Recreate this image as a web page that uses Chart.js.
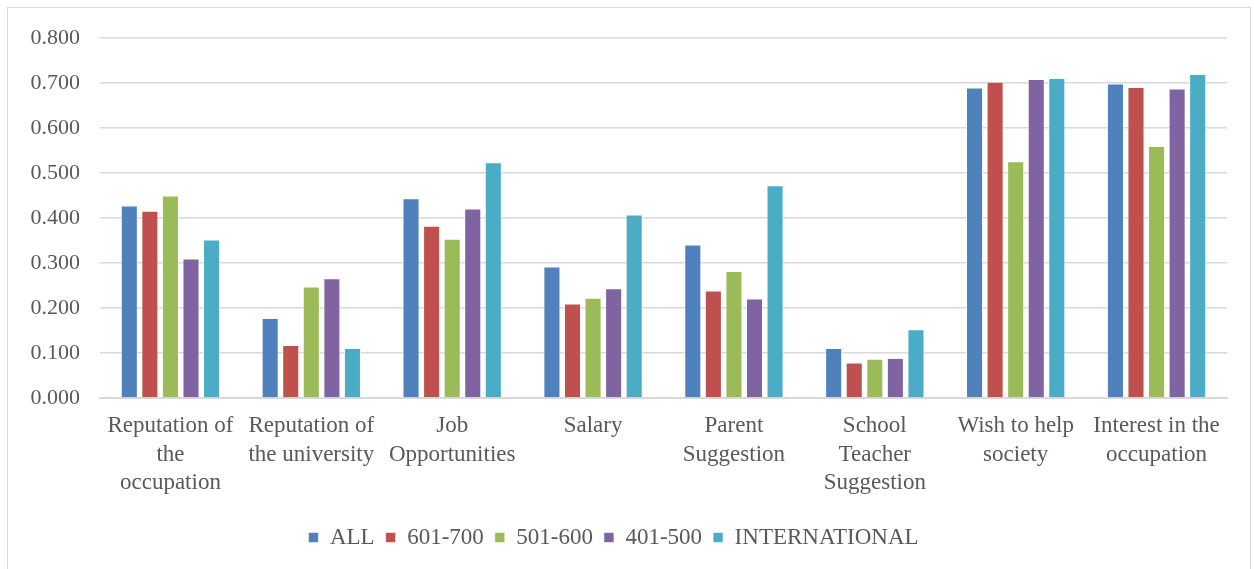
<!DOCTYPE html>
<html>
<head>
<meta charset="utf-8">
<script src="https://cdn.jsdelivr.net/npm/chart.js@4"></script>
<style>
  body { margin: 0; background: #fff; }
  #wrap { position: relative; width: 1254px; height: 569px; }
  #frame { position: absolute; left: 7px; top: 7px; right: 3px; bottom: -2px; border: 1px solid #d9d9d9; }
  canvas { position: absolute; left: 0; top: 0; }
</style>
</head>
<body>
<div id="wrap">
  <div id="frame"></div>
  <canvas id="chart" width="1254" height="569"></canvas>
</div>
<script>
const categories = [
  ['Reputation of', 'the', 'occupation'],
  ['Reputation of', 'the university'],
  ['Job', 'Opportunities'],
  ['Salary'],
  ['Parent', 'Suggestion'],
  ['School', 'Teacher', 'Suggestion'],
  ['Wish to help', 'society'],
  ['Interest in the', 'occupation']
];
const seriesNames = ['ALL', '601-700', '501-600', '401-500', 'INTERNATIONAL'];
const allValues = [0.428, 0.178, 0.444, 0.292, 0.341, 0.111, 0.690, 0.699];
const v601to700 = [0.416, 0.118, 0.383, 0.210, 0.239, 0.079, 0.703, 0.691];
const v501to600 = [0.450, 0.248, 0.354, 0.223, 0.282, 0.087, 0.526, 0.560];
const v401to500 = [0.310, 0.266, 0.421, 0.244, 0.221, 0.089, 0.709, 0.688];
const internationalValues = [0.352, 0.111, 0.524, 0.408, 0.473, 0.153, 0.711, 0.720];
const colors = ['#4F81BD', '#C0504D', '#9BBB59', '#8064A2', '#4BACC6'];

const seriesValues = [allValues, v601to700, v501to600, v401to500, internationalValues];
const family = '"Liberation Serif", "Times New Roman", serif';
const labelFont = { family: family, size: 23, lineHeight: 1.26 };
const tickFont = { family: family, size: 22 };
const textColor = '#595959';

new Chart(document.getElementById('chart'), {
  type: 'bar',
  data: {
    labels: categories,
    datasets: seriesNames.map((name, i) => ({
      label: name,
      data: seriesValues[i],
      backgroundColor: colors[i],
      borderColor: 'rgba(255,255,255,0.6)',
      borderWidth: 1,
      categoryPercentage: 0.73,
      barPercentage: 0.83
    }))
  },
  options: {
    responsive: false,
    animation: false,
    layout: { padding: { top: 38, right: 27, bottom: 10, left: 0 } },
    plugins: {
      tooltip: { enabled: false },
      legend: {
        position: 'bottom',
        labels: {
          color: textColor,
          font: labelFont,
          boxWidth: 10,
          boxHeight: 10,
          padding: 11
        }
      }
    },
    scales: {
      x: {
        grid: { display: false, drawTicks: false },
        border: { color: '#d9d9d9', width: 2 },
        ticks: { color: textColor, font: labelFont, padding: 13, autoSkip: false, maxRotation: 0, minRotation: 0 },
        afterFit: (scale) => { scale.height = 117; }
      },
      y: {
        min: 0,
        max: 0.8,
        grid: { color: '#d9d9d9', lineWidth: 1.5, drawTicks: false },
        border: { display: false },
        ticks: {
          stepSize: 0.1,
          color: textColor,
          font: tickFont,
          padding: 20,
          callback: (v) => v.toFixed(3)
        },
        afterFit: (scale) => { scale.width = 100; }
      }
    }
  }
});
</script>
</body>
</html>
